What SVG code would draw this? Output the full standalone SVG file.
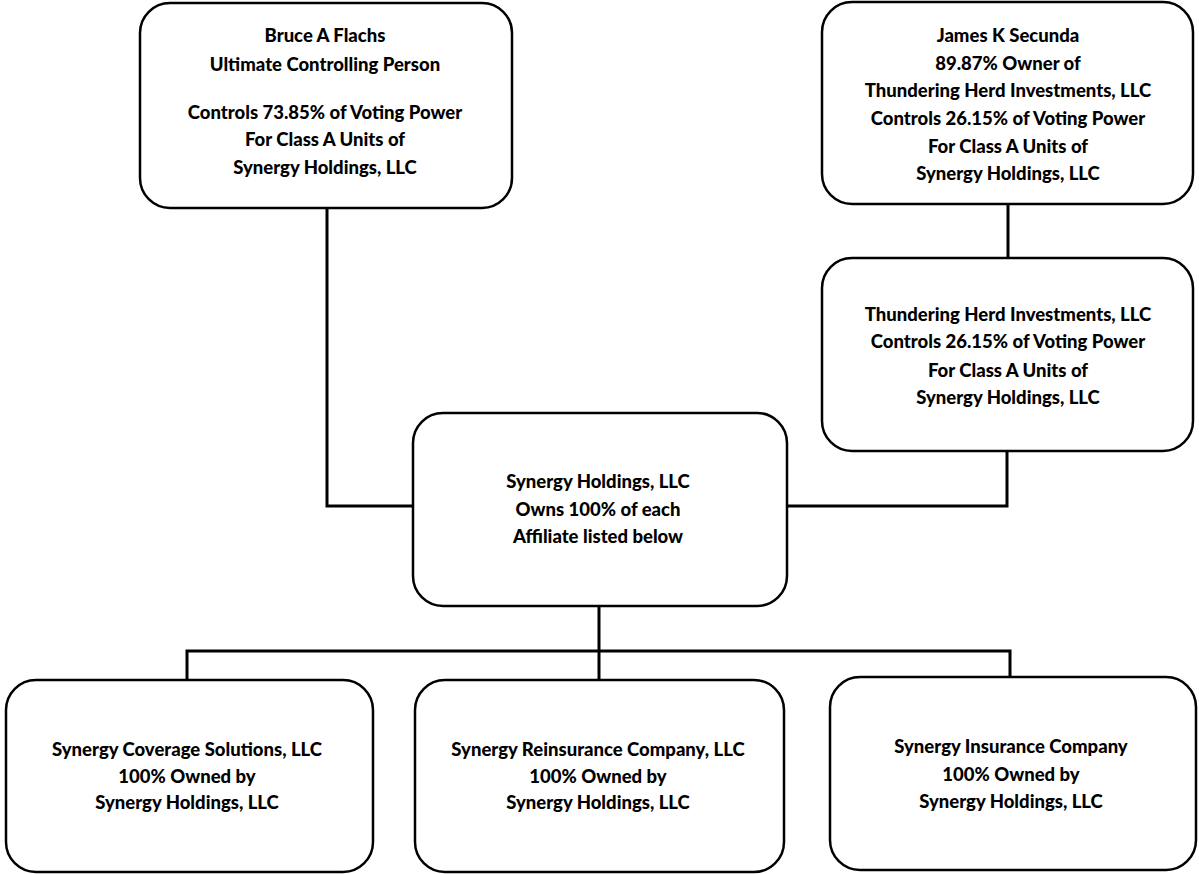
<svg xmlns="http://www.w3.org/2000/svg" width="1199" height="874" viewBox="0 0 1199 874">
<style>
.box{fill:#fff;stroke:#000;stroke-width:2.5}
.t{font-family:Lato,"Liberation Sans",sans-serif;font-weight:900;font-size:18.5px;text-anchor:middle;fill:#000}
.c{fill:none;stroke:#000;stroke-width:3}
</style>
<rect width="1199" height="874" fill="#fff"/>
<g id="connectors">
<polyline class="c" points="327,208 327,506 413,506"/>
<line class="c" x1="1008" y1="204" x2="1008" y2="258"/>
<polyline class="c" points="1007,451 1007,506 787,506"/>
<line class="c" x1="599" y1="606" x2="599" y2="680"/>
<polyline class="c" points="187,680 187,651 1010,651 1010,677"/>
</g>
<g id="bruce">
<rect class="box" x="140" y="3" width="372" height="205" rx="30"/>
<text class="t" x="325" y="42">Bruce A Flachs</text>
<text class="t" x="325" y="71">Ultimate Controlling Person</text>
<text class="t" x="325" y="119">Controls 73.85% of Voting Power</text>
<text class="t" x="325" y="146">For Class A Units of</text>
<text class="t" x="325" y="174">Synergy Holdings, LLC</text>
</g>
<g id="james">
<rect class="box" x="822" y="2" width="371" height="202" rx="30"/>
<text class="t" x="1008" y="42">James K Secunda</text>
<text class="t" x="1008" y="70">89.87% Owner of</text>
<text class="t" x="1008" y="97">Thundering Herd Investments, LLC</text>
<text class="t" x="1008" y="125">Controls 26.15% of Voting Power</text>
<text class="t" x="1008" y="153">For Class A Units of</text>
<text class="t" x="1008" y="180">Synergy Holdings, LLC</text>
</g>
<g id="thundering">
<rect class="box" x="822" y="258" width="371" height="193" rx="30"/>
<text class="t" x="1008" y="321">Thundering Herd Investments, LLC</text>
<text class="t" x="1008" y="348">Controls 26.15% of Voting Power</text>
<text class="t" x="1008" y="377">For Class A Units of</text>
<text class="t" x="1008" y="404">Synergy Holdings, LLC</text>
</g>
<g id="holdings">
<rect class="box" x="413" y="413" width="374" height="193" rx="30"/>
<text class="t" x="598" y="488">Synergy Holdings, LLC</text>
<text class="t" x="598" y="516">Owns 100% of each</text>
<text class="t" x="598" y="543">Affiliate listed below</text>
</g>
<g id="coverage">
<rect class="box" x="6" y="680" width="367" height="192" rx="30"/>
<text class="t" x="187" y="756">Synergy Coverage Solutions, LLC</text>
<text class="t" x="187" y="783">100% Owned by</text>
<text class="t" x="187" y="809">Synergy Holdings, LLC</text>
</g>
<g id="reinsurance">
<rect class="box" x="415" y="680" width="369" height="192" rx="30"/>
<text class="t" x="598" y="756">Synergy Reinsurance Company, LLC</text>
<text class="t" x="598" y="783">100% Owned by</text>
<text class="t" x="598" y="809">Synergy Holdings, LLC</text>
</g>
<g id="insurance">
<rect class="box" x="830" y="677" width="366" height="193" rx="30"/>
<text class="t" x="1011" y="753">Synergy Insurance Company</text>
<text class="t" x="1011" y="781">100% Owned by</text>
<text class="t" x="1011" y="808">Synergy Holdings, LLC</text>
</g>
</svg>
